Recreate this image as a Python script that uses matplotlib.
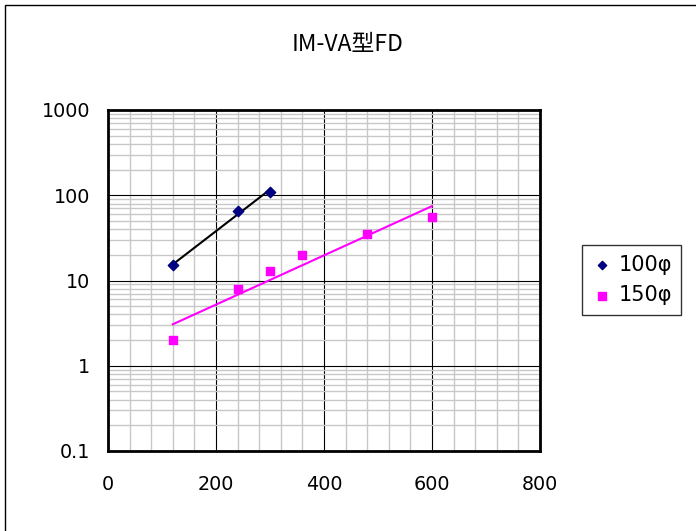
import matplotlib

matplotlib.use("Agg")
import matplotlib.pyplot as plt
import numpy as np
from matplotlib.patches import Rectangle
from matplotlib.ticker import FixedLocator, NullFormatter

plt.rcParams["font.family"] = ["DejaVu Sans", "Noto Sans CJK JP"]

title = "IM-VA型FD"
x_100 = [120, 240, 300]
y_100 = [15, 65, 110]
x_150 = [120, 240, 300, 360, 480, 600]
y_150 = [2, 8, 13, 20, 35, 55]
labels = ["100φ", "150φ"]
x_ticks = [0, 200, 400, 600, 800]
y_ticks = [0.1, 1, 10, 100, 1000]


def exp_trend(x, y):
    # Excel-style exponential trendline: linear fit of ln(y)
    b, a = np.polyfit(x, np.log(y), 1)
    xs = np.linspace(min(x), max(x), 50)
    return xs, np.exp(a + b * xs)


fig = plt.figure(figsize=(6.96, 5.31), dpi=100)
fig.patches.append(Rectangle((5 / 696, -0.01), 1.0, 1 - 5 / 531 + 0.01,
                             transform=fig.transFigure, fill=False,
                             edgecolor="black", linewidth=1.0))

ax = fig.add_axes([108 / 696, 1 - 451 / 531, 432 / 696, 341 / 531])
ax.set_yscale("log")
ax.set_xlim(0, 800)
ax.set_ylim(0.1, 1000)

ax.set_xticks(x_ticks)
ax.set_xticklabels([str(v) for v in x_ticks])
ax.set_yticks(y_ticks)
ax.set_yticklabels(["0.1", "1", "10", "100", "1000"])
ax.xaxis.set_minor_locator(FixedLocator(np.arange(0, 801, 40)))
minor_y = [m * 10.0 ** e for e in range(-1, 3) for m in range(2, 10)]
ax.yaxis.set_minor_locator(FixedLocator(minor_y))
ax.yaxis.set_minor_formatter(NullFormatter())
ax.tick_params(which="both", length=0)
ax.tick_params(axis="x", pad=17, labelsize=13.8)
ax.tick_params(axis="y", pad=13, labelsize=13.8)

ax.grid(which="minor", color="#c8c8c8", linewidth=1.0)
ax.grid(which="major", color="black", linewidth=0.8)
ax.set_axisbelow(True)
for s in ax.spines.values():
    s.set_linewidth(2.0)

tx, ty = exp_trend(x_100, y_100)
ax.plot(tx, ty, color="black", linewidth=1.5, zorder=3)
tx, ty = exp_trend(x_150, y_150)
ax.plot(tx, ty, color="#ff00ff", linewidth=1.5, zorder=3)

ax.scatter(x_100, y_100, marker="D", s=28, color="#000080", zorder=4, label=labels[0])
ax.scatter(x_150, y_150, marker="s", s=40, color="#ff00ff", zorder=4, label=labels[1])

fig.text(348 / 696, 1 - 44 / 531, title, ha="center", va="center", fontsize=16.5,
         family=["Noto Sans CJK JP", "DejaVu Sans"])

leg = ax.legend(loc="center left", bbox_to_anchor=(582 / 696, 1 - 280 / 531),
                bbox_transform=fig.transFigure, fontsize=15, frameon=True,
                fancybox=False, borderpad=0.45, handletextpad=0.3,
                handlelength=1.0, labelspacing=0.5, markerscale=0.8,
                borderaxespad=0)
leg.get_frame().set_edgecolor("black")
leg.get_frame().set_linewidth(1.0)

fig.savefig("out.png", dpi=100)
